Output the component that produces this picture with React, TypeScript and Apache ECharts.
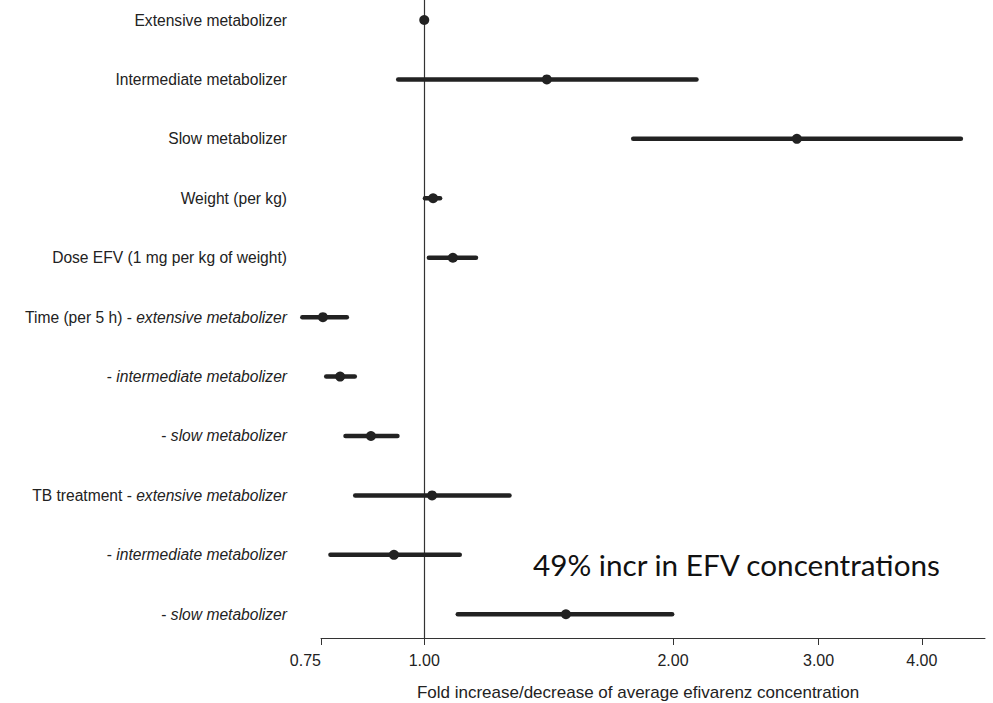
import React, { useEffect, useRef } from "react";
import * as echarts from "echarts";

// Row labels: upright part and italic part
const labelMain = [
  "Extensive metabolizer",
  "Intermediate metabolizer",
  "Slow metabolizer",
  "Weight (per kg)",
  "Dose EFV (1 mg per kg of weight)",
  "Time (per 5 h) - ",
  "- ",
  "- ",
  "TB treatment - ",
  "- ",
  "- ",
];
const labelItalic = [
  "",
  "",
  "",
  "",
  "",
  "extensive metabolizer",
  "intermediate metabolizer",
  "slow metabolizer",
  "extensive metabolizer",
  "intermediate metabolizer",
  "slow metabolizer",
];

// Fold change estimates with 95% CI
const estimates = [1.0, 1.407, 2.824, 1.025, 1.083, 0.754, 0.791, 0.862, 1.022, 0.919, 1.484];
const lower = [null, 0.93, 1.79, 1.002, 1.013, 0.712, 0.761, 0.803, 0.825, 0.77, 1.098];
const upper = [null, 2.135, 4.46, 1.045, 1.155, 0.806, 0.824, 0.928, 1.268, 1.104, 1.995];

const xTicks = [0.75, 1.0, 2.0, 3.0, 4.0];
const xMax = 4.77;

const annotation = "49% incr in EFV concentrations";
const xTitle = "Fold increase/decrease of average efivarenz concentration";

const FONT = '"Liberation Sans", Arial, Helvetica, sans-serif';
const INK = "#222222";

export default function App() {
  const ref = useRef<HTMLDivElement>(null);

  useEffect(() => {
    if (!ref.current) return;
    const chart = echarts.init(ref.current, null, { renderer: "svg" });

    const ciData: any[] = [];
    lower.forEach((lo, i) => {
      const hi = upper[i];
      if (lo != null && hi != null) ciData.push([Math.log(lo), Math.log(hi), i]);
    });
    const pointData = estimates.map((e, i) => [Math.log(e), i]);

    const option: any = {
      animation: false,
      backgroundColor: "#ffffff",
      grid: { left: 321, right: 8, top: 0, bottom: 65, containLabel: false },
      xAxis: {
        type: "value",
        position: "bottom",
        min: Math.log(0.75),
        max: Math.log(xMax),
        splitLine: { show: false },
        axisLine: { show: true, onZero: false, lineStyle: { color: "#333", width: 1 } },
        axisTick: {
          show: true,
          length: 7,
          customValues: xTicks.map((t) => Math.log(t)),
          lineStyle: { color: "#333", width: 1 },
        },
        axisLabel: {
          customValues: xTicks.map((t) => Math.log(t)),
          formatter: (v: number) => Math.exp(v).toFixed(2),
          fontFamily: FONT,
          fontSize: 16,
          color: INK,
          margin: 14,
          alignMinLabel: "right",
        },
      },
      yAxis: {
        type: "value",
        inverse: true,
        min: -0.337,
        max: 10.4,
        splitLine: { show: false },
        axisLine: { show: false, onZero: false },
        axisTick: { show: false },
        axisLabel: {
          customValues: labelMain.map((_, i) => i),
          margin: 34,
          fontFamily: FONT,
          fontSize: 15.6,
          color: INK,
          formatter: (v: number) => {
            const i = Math.round(v);
            const m = labelMain[i] || "";
            const it = labelItalic[i] || "";
            return (m ? "{n|" + m + "}" : "") + (it ? "{i|" + it + "}" : "");
          },
          rich: {
            n: { fontFamily: FONT, fontSize: 15.6, color: INK },
            i: { fontFamily: FONT, fontSize: 15.6, color: INK, fontStyle: "italic" },
          },
        },
      },
      series: [
        {
          type: "custom",
          name: "ci",
          data: ciData,
          encode: { x: [0, 1], y: 2 },
          renderItem: (params: any, api: any) => {
            const p1 = api.coord([api.value(0), api.value(2)]);
            const p2 = api.coord([api.value(1), api.value(2)]);
            return {
              type: "line",
              shape: { x1: p1[0], y1: p1[1], x2: p2[0], y2: p2[1] },
              style: { stroke: INK, lineWidth: 4.5, lineCap: "round" },
            };
          },
          z: 2,
        },
        {
          type: "scatter",
          name: "estimate",
          data: pointData,
          symbol: "circle",
          symbolSize: 10,
          itemStyle: { color: INK, opacity: 1 },
          z: 3,
          markLine: {
            silent: true,
            symbol: "none",
            label: { show: false },
            lineStyle: { color: "#333", width: 1.2, type: "solid" },
            data: [{ xAxis: 0 }],
            z: 1,
          },
        },
      ],
      graphic: [
        {
          type: "text",
          x: 533,
          y: 564,
          style: {
            text: annotation,
            font: '29.7px Lato, "Open Sans", sans-serif',
            fill: "#111",
            textAlign: "left",
            textVerticalAlign: "middle",
          },
        },
        {
          type: "text",
          x: 638,
          y: 692,
          style: {
            text: xTitle,
            font: "17px " + FONT,
            fill: INK,
            textAlign: "center",
            textVerticalAlign: "middle",
          },
        },
      ],
    };

    chart.setOption(option);
    return () => chart.dispose();
  }, []);

  return (
    <div
      ref={ref}
      style={{ position: "fixed", left: 0, top: 0, width: 993, height: 703, background: "#fff" }}
    />
  );
}
